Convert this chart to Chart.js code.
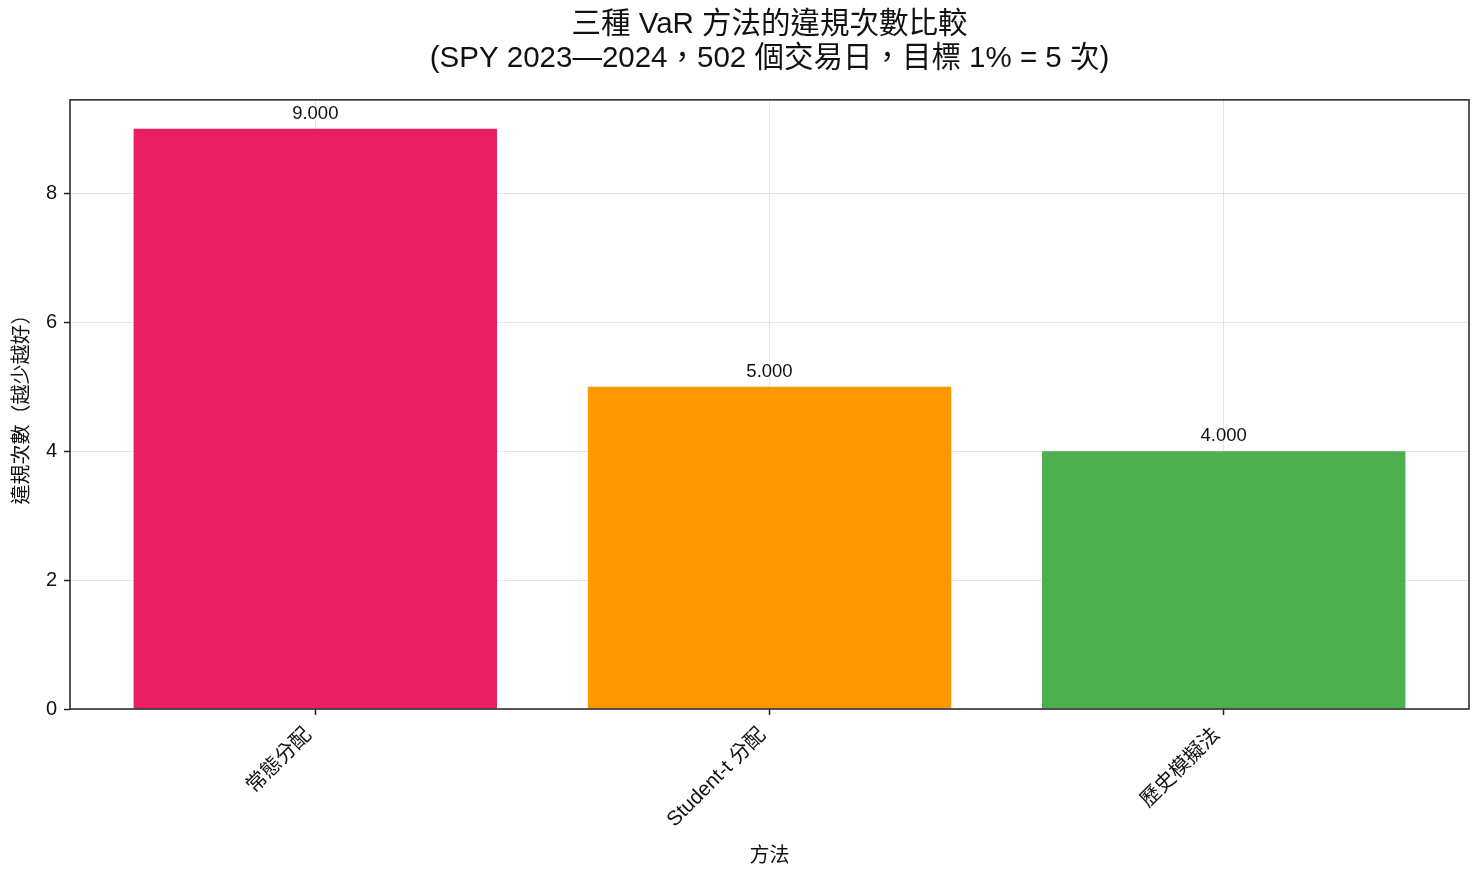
<!DOCTYPE html>
<html>
<head>
<meta charset="utf-8">
<script src="https://cdn.jsdelivr.net/npm/chart.js@4.4.1/dist/chart.umd.min.js"></script>
<style>
  html, body { margin: 0; padding: 0; background: #fff; }
  #wrap { width: 1483px; height: 882px; }
</style>
</head>
<body>
<div id="wrap"><canvas id="chart" width="1483" height="882"></canvas></div>
<script>
// VaR backtest: number of violations per method
const methods = ['常態分配', 'Student-t 分配', '歷史模擬法'];
const violations = [9, 5, 4];
const barColors = ['#E91E63', '#FF9800', '#4CAF50'];
const yTicks = [0, 2, 4, 6, 8];

const FONT = "'Liberation Sans', 'Noto Sans CJK TC', sans-serif";

// full frame around the plot area, like a matplotlib axes box
const frameBox = {
  id: 'frameBox',
  afterDraw(chart) {
    const { ctx, chartArea: a } = chart;
    ctx.save();
    ctx.strokeStyle = '#222';
    ctx.lineWidth = 1.5;
    ctx.strokeRect(a.left, a.top, a.right - a.left, a.bottom - a.top);
    ctx.restore();
  }
};

// value text over each bar
const barValues = {
  id: 'barValues',
  afterDatasetsDraw(chart) {
    const { ctx } = chart;
    const meta = chart.getDatasetMeta(0);
    ctx.save();
    ctx.font = '18.5px ' + FONT;
    ctx.fillStyle = '#111';
    ctx.textAlign = 'center';
    ctx.textBaseline = 'bottom';
    meta.data.forEach((bar, i) => {
      ctx.fillText(violations[i].toFixed(3), bar.x, bar.y - 6);
    });
    ctx.restore();
  }
};

new Chart(document.getElementById('chart'), {
  type: 'bar',
  data: {
    datasets: [{
      data: violations.map((v, i) => ({ x: i, y: v })),
      backgroundColor: barColors,
      borderWidth: 0,
      barPercentage: 0.8,
      categoryPercentage: 1.0
    }]
  },
  options: {
    responsive: false,
    animation: false,
    layout: { padding: { left: 8, right: 14, top: 0, bottom: 12 } },
    plugins: {
      legend: { display: false },
      tooltip: { enabled: false },
      title: {
        display: true,
        fullSize: false,
        text: ['三種 VaR 方法的違規次數比較', '(SPY 2023—2024，502 個交易日，目標 1% = 5 次)'],
        color: '#111',
        font: { family: FONT, size: 29.5, weight: 'normal', lineHeight: 1.15 },
        padding: { top: 8, bottom: 24 }
      }
    },
    scales: {
      x: {
        type: 'linear',
        offset: false,
        min: -0.54,
        max: 2.54,
        z: 1,
        afterBuildTicks(scale) {
          scale.ticks = methods.map((m, i) => ({ value: i }));
        },
        afterFit(scale) {
          scale.height = 161;
        },
        ticks: {
          autoSkip: false,
          maxRotation: 45,
          minRotation: 45,
          padding: 8,
          labelOffset: -7,
          color: '#111',
          font: { family: FONT, size: 20.5 },
          callback: (v) => methods[v]
        },
        grid: {
          offset: false,
          color: 'rgba(170,170,170,0.3)',
          lineWidth: 1,
          tickColor: '#222',
          tickLength: 6,
          tickWidth: 1.5
        },
        border: { display: false },
        title: {
          display: true,
          text: '方法',
          color: '#111',
          font: { family: FONT, size: 20 },
          padding: { top: 2, bottom: 2 }
        }
      },
      y: {
        min: 0,
        max: 9.45,
        z: 1,
        afterBuildTicks(scale) {
          scale.ticks = yTicks.map(v => ({ value: v }));
        },
        afterFit(scale) {
          scale.width = 62;
        },
        ticks: {
          padding: 7,
          color: '#111',
          font: { family: FONT, size: 20 }
        },
        grid: {
          color: 'rgba(170,170,170,0.3)',
          lineWidth: 1,
          tickColor: '#222',
          tickLength: 6,
          tickWidth: 1.5
        },
        border: { display: false },
        title: {
          display: true,
          text: '違規次數（越少越好）',
          color: '#111',
          font: { family: FONT, size: 20 },
          padding: { top: 2, bottom: 0 }
        }
      }
    }
  },
  plugins: [frameBox, barValues]
});
</script>
</body>
</html>
